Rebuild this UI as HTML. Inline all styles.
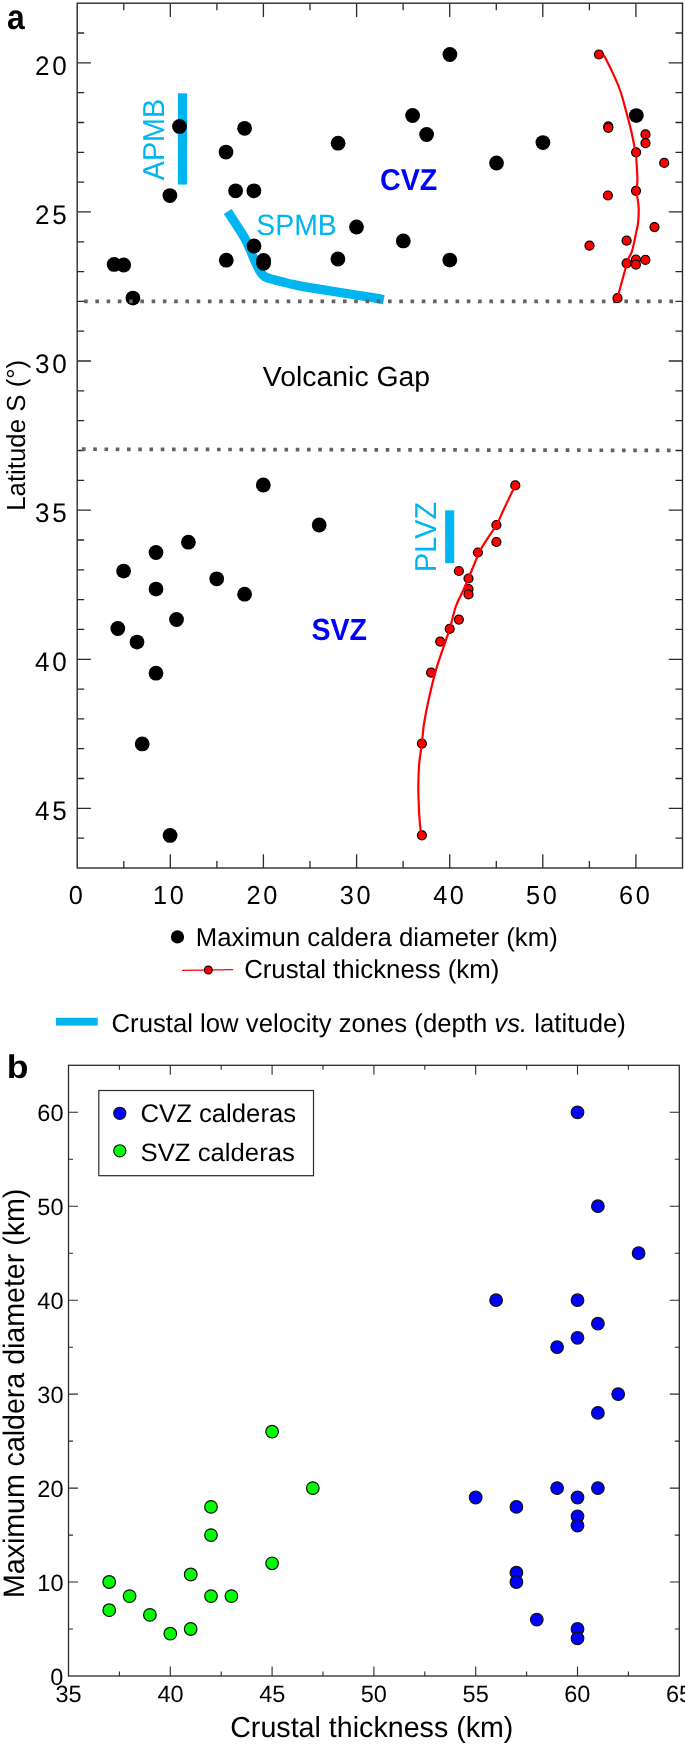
<!DOCTYPE html><html><head><meta charset="utf-8"><style>html,body{margin:0;padding:0;background:#fff;}svg{display:block;will-change:transform;}text{font-family:"Liberation Sans",sans-serif;text-rendering:geometricPrecision;}</style></head><body>
<svg width="685" height="1749" viewBox="0 0 685 1749">
<rect width="685" height="1749" fill="#fff"/>
<rect x="77.2" y="3.2" width="605.3" height="864.8" fill="none" stroke="#2b2b2b" stroke-width="1.4"/>
<path d="M123.8,868.0V861.0M123.8,3.2V10.2M170.3,868.0V854.3M170.3,3.2V16.9M216.9,868.0V861.0M216.9,3.2V10.2M263.4,868.0V854.3M263.4,3.2V16.9M310.0,868.0V861.0M310.0,3.2V10.2M356.6,868.0V854.3M356.6,3.2V16.9M403.1,868.0V861.0M403.1,3.2V10.2M449.7,868.0V854.3M449.7,3.2V16.9M496.3,868.0V861.0M496.3,3.2V10.2M542.8,868.0V854.3M542.8,3.2V16.9M589.4,868.0V861.0M589.4,3.2V10.2M635.9,868.0V854.3M635.9,3.2V16.9M77.2,33.0H84.2M682.5,33.0H675.5M77.2,62.8H90.9M682.5,62.8H668.8M77.2,92.7H84.2M682.5,92.7H675.5M77.2,122.5H84.2M682.5,122.5H675.5M77.2,152.3H84.2M682.5,152.3H675.5M77.2,182.1H84.2M682.5,182.1H675.5M77.2,211.9H90.9M682.5,211.9H668.8M77.2,241.8H84.2M682.5,241.8H675.5M77.2,271.6H84.2M682.5,271.6H675.5M77.2,301.4H84.2M682.5,301.4H675.5M77.2,331.2H84.2M682.5,331.2H675.5M77.2,361.0H90.9M682.5,361.0H668.8M77.2,390.9H84.2M682.5,390.9H675.5M77.2,420.7H84.2M682.5,420.7H675.5M77.2,450.5H84.2M682.5,450.5H675.5M77.2,480.3H84.2M682.5,480.3H675.5M77.2,510.2H90.9M682.5,510.2H668.8M77.2,540.0H84.2M682.5,540.0H675.5M77.2,569.8H84.2M682.5,569.8H675.5M77.2,599.6H84.2M682.5,599.6H675.5M77.2,629.4H84.2M682.5,629.4H675.5M77.2,659.3H90.9M682.5,659.3H668.8M77.2,689.1H84.2M682.5,689.1H675.5M77.2,718.9H84.2M682.5,718.9H675.5M77.2,748.7H84.2M682.5,748.7H675.5M77.2,778.5H84.2M682.5,778.5H675.5M77.2,808.4H90.9M682.5,808.4H668.8M77.2,838.2H84.2M682.5,838.2H675.5" stroke="#2b2b2b" stroke-width="1.3" fill="none"/>
<rect x="177.9" y="93.3" width="9.2" height="91.3" fill="#00b5f0"/>
<rect x="445.1" y="510.3" width="9.1" height="52.8" fill="#00b5f0"/>
<path d="M227.7,211.6 C230.2,215.5 239.3,229.1 242.9,235.0 C246.5,240.9 247.1,242.9 249.0,247.0 C250.9,251.1 252.5,255.6 254.3,259.5 C256.1,263.4 257.9,267.7 259.6,270.5 C261.3,273.3 261.9,274.9 264.5,276.5 C267.1,278.1 271.0,278.9 275.0,280.0 C279.0,281.1 283.4,282.2 288.4,283.4 C293.4,284.5 295.6,285.3 305.0,286.9 C314.4,288.5 333.5,291.4 345.0,293.2 C356.5,295.0 367.7,296.8 374.2,297.9 C380.7,299.0 382.2,299.4 383.8,299.7" stroke="#00b5f0" stroke-width="9.2" fill="none" stroke-linecap="butt" stroke-linejoin="round"/>
<circle cx="449.9" cy="54.5" r="7.4" fill="#000"/>
<circle cx="636.3" cy="115.6" r="7.4" fill="#000"/>
<circle cx="412.6" cy="115.5" r="7.4" fill="#000"/>
<circle cx="179.5" cy="126.5" r="7.4" fill="#000"/>
<circle cx="244.6" cy="128.3" r="7.4" fill="#000"/>
<circle cx="426.6" cy="134.5" r="7.4" fill="#000"/>
<circle cx="338.1" cy="143.2" r="7.4" fill="#000"/>
<circle cx="542.9" cy="142.6" r="7.4" fill="#000"/>
<circle cx="226.0" cy="152.1" r="7.4" fill="#000"/>
<circle cx="496.5" cy="163.0" r="7.4" fill="#000"/>
<circle cx="235.6" cy="190.8" r="7.4" fill="#000"/>
<circle cx="253.9" cy="190.8" r="7.4" fill="#000"/>
<circle cx="169.9" cy="195.6" r="7.4" fill="#000"/>
<circle cx="356.5" cy="227.0" r="7.4" fill="#000"/>
<circle cx="403.3" cy="240.9" r="7.4" fill="#000"/>
<circle cx="254.0" cy="246.0" r="7.4" fill="#000"/>
<circle cx="226.3" cy="260.2" r="7.4" fill="#000"/>
<circle cx="263.6" cy="260.4" r="7.4" fill="#000"/>
<circle cx="263.6" cy="263.3" r="7.4" fill="#000"/>
<circle cx="337.9" cy="259.0" r="7.4" fill="#000"/>
<circle cx="449.8" cy="260.1" r="7.4" fill="#000"/>
<circle cx="114.1" cy="264.4" r="7.4" fill="#000"/>
<circle cx="123.7" cy="265.0" r="7.4" fill="#000"/>
<circle cx="132.9" cy="298.1" r="7.4" fill="#000"/>
<circle cx="263.3" cy="485.0" r="7.4" fill="#000"/>
<circle cx="319.2" cy="525.0" r="7.4" fill="#000"/>
<circle cx="188.4" cy="542.2" r="7.4" fill="#000"/>
<circle cx="156.0" cy="552.5" r="7.4" fill="#000"/>
<circle cx="123.6" cy="571.1" r="7.4" fill="#000"/>
<circle cx="216.7" cy="578.8" r="7.4" fill="#000"/>
<circle cx="156.0" cy="589.1" r="7.4" fill="#000"/>
<circle cx="244.6" cy="594.2" r="7.4" fill="#000"/>
<circle cx="176.5" cy="619.5" r="7.4" fill="#000"/>
<circle cx="117.8" cy="628.5" r="7.4" fill="#000"/>
<circle cx="137.0" cy="642.1" r="7.4" fill="#000"/>
<circle cx="156.0" cy="673.2" r="7.4" fill="#000"/>
<circle cx="142.2" cy="743.9" r="7.4" fill="#000"/>
<circle cx="170.1" cy="835.4" r="7.4" fill="#000"/>
<path d="M84.1,301.4H673.1" stroke="#626262" stroke-width="3.7" stroke-dasharray="3.6 7.656" fill="none"/>
<path d="M82.0,449.2L670.7,450.4" stroke="#626262" stroke-width="3.7" stroke-dasharray="3.6 7.65" fill="none"/>
<circle cx="599.0" cy="54.5" r="4.5" fill="#ff0000" stroke="#000" stroke-width="1.2"/>
<circle cx="608.3" cy="126.3" r="4.5" fill="#ff0000" stroke="#000" stroke-width="1.2"/>
<circle cx="608.3" cy="127.8" r="4.5" fill="#ff0000" stroke="#000" stroke-width="1.2"/>
<circle cx="645.5" cy="134.4" r="4.5" fill="#ff0000" stroke="#000" stroke-width="1.2"/>
<circle cx="645.5" cy="143.2" r="4.5" fill="#ff0000" stroke="#000" stroke-width="1.2"/>
<circle cx="636.1" cy="152.3" r="4.5" fill="#ff0000" stroke="#000" stroke-width="1.2"/>
<circle cx="664.2" cy="162.9" r="4.5" fill="#ff0000" stroke="#000" stroke-width="1.2"/>
<circle cx="636.0" cy="190.8" r="4.5" fill="#ff0000" stroke="#000" stroke-width="1.2"/>
<circle cx="607.9" cy="195.5" r="4.5" fill="#ff0000" stroke="#000" stroke-width="1.2"/>
<circle cx="654.5" cy="227.1" r="4.5" fill="#ff0000" stroke="#000" stroke-width="1.2"/>
<circle cx="626.6" cy="240.7" r="4.5" fill="#ff0000" stroke="#000" stroke-width="1.2"/>
<circle cx="589.5" cy="245.7" r="4.5" fill="#ff0000" stroke="#000" stroke-width="1.2"/>
<circle cx="635.9" cy="259.5" r="4.5" fill="#ff0000" stroke="#000" stroke-width="1.2"/>
<circle cx="645.4" cy="259.9" r="4.5" fill="#ff0000" stroke="#000" stroke-width="1.2"/>
<circle cx="626.6" cy="263.3" r="4.5" fill="#ff0000" stroke="#000" stroke-width="1.2"/>
<circle cx="635.9" cy="264.6" r="4.5" fill="#ff0000" stroke="#000" stroke-width="1.2"/>
<circle cx="617.5" cy="298.2" r="4.5" fill="#ff0000" stroke="#000" stroke-width="1.2"/>
<circle cx="515.3" cy="485.4" r="4.5" fill="#ff0000" stroke="#000" stroke-width="1.2"/>
<circle cx="496.4" cy="525.0" r="4.5" fill="#ff0000" stroke="#000" stroke-width="1.2"/>
<circle cx="496.4" cy="542.0" r="4.5" fill="#ff0000" stroke="#000" stroke-width="1.2"/>
<circle cx="477.9" cy="552.5" r="4.5" fill="#ff0000" stroke="#000" stroke-width="1.2"/>
<circle cx="458.9" cy="571.0" r="4.5" fill="#ff0000" stroke="#000" stroke-width="1.2"/>
<circle cx="468.5" cy="578.5" r="4.5" fill="#ff0000" stroke="#000" stroke-width="1.2"/>
<circle cx="468.5" cy="589.0" r="4.5" fill="#ff0000" stroke="#000" stroke-width="1.2"/>
<circle cx="468.5" cy="594.4" r="4.5" fill="#ff0000" stroke="#000" stroke-width="1.2"/>
<circle cx="458.9" cy="619.6" r="4.5" fill="#ff0000" stroke="#000" stroke-width="1.2"/>
<circle cx="449.7" cy="628.8" r="4.5" fill="#ff0000" stroke="#000" stroke-width="1.2"/>
<circle cx="440.2" cy="641.6" r="4.5" fill="#ff0000" stroke="#000" stroke-width="1.2"/>
<circle cx="431.1" cy="672.6" r="4.5" fill="#ff0000" stroke="#000" stroke-width="1.2"/>
<circle cx="421.9" cy="743.6" r="4.5" fill="#ff0000" stroke="#000" stroke-width="1.2"/>
<circle cx="421.9" cy="835.3" r="4.5" fill="#ff0000" stroke="#000" stroke-width="1.2"/>
<path d="M603.8,55.0 C605.2,57.9 609.8,66.7 612.5,72.5 C615.2,78.3 617.8,83.8 620.0,90.0 C622.2,96.2 624.0,103.3 625.8,110.0 C627.6,116.7 629.5,123.8 631.0,130.0 C632.5,136.2 633.8,143.5 634.6,147.2 C635.4,150.9 635.7,150.3 636.0,152.4 C636.3,154.5 636.2,155.8 636.4,160.0 C636.6,164.2 637.3,173.5 637.4,177.9 C637.5,182.3 637.1,184.4 636.9,186.6 C636.7,188.8 636.3,189.2 636.4,191.0 C636.5,192.8 637.0,194.8 637.4,197.6 C637.8,200.4 638.6,203.9 638.7,208.0 C638.8,212.1 638.6,218.0 638.2,221.9 C637.8,225.8 637.4,226.5 636.4,231.4 C635.4,236.3 633.5,246.1 632.0,251.1 C630.5,256.1 630.0,253.5 627.6,261.3 C625.2,269.1 619.2,291.9 617.5,298.0" stroke="#ff0000" stroke-width="2.2" fill="none"/>
<path d="M515.3,485.3 C513.2,489.6 506.1,504.4 503.0,511.0 C499.9,517.6 500.1,518.7 496.4,525.0 C492.7,531.3 485.0,541.7 481.0,549.0 C477.0,556.3 475.2,562.2 472.3,569.0 C469.4,575.8 466.3,583.5 463.6,589.7 C460.9,595.9 458.3,599.5 456.0,606.0 C453.7,612.5 451.9,621.5 449.7,628.7 C447.5,635.9 445.2,641.9 442.8,649.2 C440.4,656.5 437.6,663.8 435.2,672.6 C432.8,681.4 430.1,693.1 428.2,701.8 C426.3,710.5 424.9,718.0 423.8,725.0 C422.8,732.0 422.7,736.8 421.9,743.6 C421.1,750.4 419.6,757.4 419.0,766.0 C418.4,774.6 418.2,785.2 418.4,795.0 C418.6,804.8 419.4,818.3 420.0,825.0 C420.6,831.7 421.6,833.6 421.9,835.3" stroke="#ff0000" stroke-width="2.2" fill="none"/>
<circle cx="177.5" cy="936.9" r="6.6" fill="#000"/>
<path d="M182.1,970.4L233.1,969.6" stroke="#ff0000" stroke-width="1.4"/>
<circle cx="208.3" cy="970" r="3.9" fill="#ff0000" stroke="#000" stroke-width="1.1"/>
<rect x="55.9" y="1017.8" width="41.8" height="7.8" fill="#00b5f0"/>
<rect x="68.5" y="1065.3" width="610.8" height="610.7" fill="none" stroke="#2b2b2b" stroke-width="1.3"/>
<path d="M119.4,1676.0V1671.5M119.4,1065.3V1069.8M170.3,1676.0V1666.5M170.3,1065.3V1074.8M221.2,1676.0V1671.5M221.2,1065.3V1069.8M272.1,1676.0V1666.5M272.1,1065.3V1074.8M323.0,1676.0V1671.5M323.0,1065.3V1069.8M373.9,1676.0V1666.5M373.9,1065.3V1074.8M424.8,1676.0V1671.5M424.8,1065.3V1069.8M475.7,1676.0V1666.5M475.7,1065.3V1074.8M526.6,1676.0V1671.5M526.6,1065.3V1069.8M577.5,1676.0V1666.5M577.5,1065.3V1074.8M628.4,1676.0V1671.5M628.4,1065.3V1069.8M68.5,1629.0H73.0M679.3,1629.0H674.8M68.5,1582.0H78.0M679.3,1582.0H669.8M68.5,1535.1H73.0M679.3,1535.1H674.8M68.5,1488.1H78.0M679.3,1488.1H669.8M68.5,1441.1H73.0M679.3,1441.1H674.8M68.5,1394.1H78.0M679.3,1394.1H669.8M68.5,1347.2H73.0M679.3,1347.2H674.8M68.5,1300.2H78.0M679.3,1300.2H669.8M68.5,1253.2H73.0M679.3,1253.2H674.8M68.5,1206.2H78.0M679.3,1206.2H669.8M68.5,1159.3H73.0M679.3,1159.3H674.8M68.5,1112.3H78.0M679.3,1112.3H669.8" stroke="#2b2b2b" stroke-width="1.1" fill="none"/>
<rect x="98.8" y="1090.5" width="214.7" height="85.2" fill="#fff" stroke="#2b2b2b" stroke-width="1.2"/>
<circle cx="119.8" cy="1113.3" r="6.1" fill="#0000ff" stroke="#111" stroke-width="1.1"/>
<circle cx="119.8" cy="1150.8" r="6.1" fill="#00ff00" stroke="#111" stroke-width="1.1"/>
<circle cx="577.5" cy="1112.3" r="6.3" fill="#0000ff" stroke="#111" stroke-width="1.2"/>
<circle cx="597.9" cy="1206.2" r="6.3" fill="#0000ff" stroke="#111" stroke-width="1.2"/>
<circle cx="638.6" cy="1253.2" r="6.3" fill="#0000ff" stroke="#111" stroke-width="1.2"/>
<circle cx="496.1" cy="1300.2" r="6.3" fill="#0000ff" stroke="#111" stroke-width="1.2"/>
<circle cx="577.5" cy="1300.2" r="6.3" fill="#0000ff" stroke="#111" stroke-width="1.2"/>
<circle cx="597.9" cy="1323.7" r="6.3" fill="#0000ff" stroke="#111" stroke-width="1.2"/>
<circle cx="577.5" cy="1337.8" r="6.3" fill="#0000ff" stroke="#111" stroke-width="1.2"/>
<circle cx="557.1" cy="1347.2" r="6.3" fill="#0000ff" stroke="#111" stroke-width="1.2"/>
<circle cx="618.2" cy="1394.1" r="6.3" fill="#0000ff" stroke="#111" stroke-width="1.2"/>
<circle cx="597.9" cy="1412.9" r="6.3" fill="#0000ff" stroke="#111" stroke-width="1.2"/>
<circle cx="557.1" cy="1488.1" r="6.3" fill="#0000ff" stroke="#111" stroke-width="1.2"/>
<circle cx="597.9" cy="1488.1" r="6.3" fill="#0000ff" stroke="#111" stroke-width="1.2"/>
<circle cx="475.7" cy="1497.5" r="6.3" fill="#0000ff" stroke="#111" stroke-width="1.2"/>
<circle cx="577.5" cy="1497.5" r="6.3" fill="#0000ff" stroke="#111" stroke-width="1.2"/>
<circle cx="516.4" cy="1506.9" r="6.3" fill="#0000ff" stroke="#111" stroke-width="1.2"/>
<circle cx="577.5" cy="1516.3" r="6.3" fill="#0000ff" stroke="#111" stroke-width="1.2"/>
<circle cx="577.5" cy="1525.7" r="6.3" fill="#0000ff" stroke="#111" stroke-width="1.2"/>
<circle cx="516.4" cy="1572.7" r="6.3" fill="#0000ff" stroke="#111" stroke-width="1.2"/>
<circle cx="516.4" cy="1582.0" r="6.3" fill="#0000ff" stroke="#111" stroke-width="1.2"/>
<circle cx="536.8" cy="1619.6" r="6.3" fill="#0000ff" stroke="#111" stroke-width="1.2"/>
<circle cx="577.5" cy="1629.0" r="6.3" fill="#0000ff" stroke="#111" stroke-width="1.2"/>
<circle cx="577.5" cy="1638.4" r="6.3" fill="#0000ff" stroke="#111" stroke-width="1.2"/>
<circle cx="272.1" cy="1431.7" r="6.3" fill="#00ff00" stroke="#111" stroke-width="1.2"/>
<circle cx="312.8" cy="1488.1" r="6.3" fill="#00ff00" stroke="#111" stroke-width="1.2"/>
<circle cx="211.0" cy="1506.9" r="6.3" fill="#00ff00" stroke="#111" stroke-width="1.2"/>
<circle cx="211.0" cy="1535.1" r="6.3" fill="#00ff00" stroke="#111" stroke-width="1.2"/>
<circle cx="272.1" cy="1563.3" r="6.3" fill="#00ff00" stroke="#111" stroke-width="1.2"/>
<circle cx="190.7" cy="1574.5" r="6.3" fill="#00ff00" stroke="#111" stroke-width="1.2"/>
<circle cx="109.2" cy="1582.0" r="6.3" fill="#00ff00" stroke="#111" stroke-width="1.2"/>
<circle cx="129.6" cy="1596.1" r="6.3" fill="#00ff00" stroke="#111" stroke-width="1.2"/>
<circle cx="211.0" cy="1596.1" r="6.3" fill="#00ff00" stroke="#111" stroke-width="1.2"/>
<circle cx="231.4" cy="1596.1" r="6.3" fill="#00ff00" stroke="#111" stroke-width="1.2"/>
<circle cx="109.2" cy="1610.2" r="6.3" fill="#00ff00" stroke="#111" stroke-width="1.2"/>
<circle cx="149.9" cy="1614.9" r="6.3" fill="#00ff00" stroke="#111" stroke-width="1.2"/>
<circle cx="190.7" cy="1629.0" r="6.3" fill="#00ff00" stroke="#111" stroke-width="1.2"/>
<circle cx="170.3" cy="1633.7" r="6.3" fill="#00ff00" stroke="#111" stroke-width="1.2"/>
<text transform="translate(-41.35,-76.06) scale(0.9657,1.0500) translate(50,100) rotate(0)" font-size="33" font-weight="bold" fill="#000">a</text>
<text transform="translate(-47.07,978.98) scale(1.0788,0.9897) translate(50,100) rotate(0)" font-size="33" font-weight="bold" fill="#000">b</text>
<text transform="translate(-77.59,-198.31) scale(1.0232,1.0131) translate(100,700) rotate(-90)" font-size="25.5" fill="#000">Latitude S (°)</text>
<text transform="translate(55.45,-537.36) scale(1.0805,1.0251) translate(100,700) rotate(-90)" font-size="28" fill="#00b5f0">APMB</text>
<text transform="translate(205.72,129.22) scale(1.0124,1.0532) translate(50,100) rotate(0)" font-size="28" fill="#00b5f0">SPMB</text>
<text transform="translate(328.82,82.48) scale(1.0241,1.0785) translate(50,100) rotate(0)" font-size="28" font-weight="bold" fill="#0000ff">CVZ</text>
<text transform="translate(212.14,287.16) scale(1.0141,0.9923) translate(50,100) rotate(0)" font-size="28" fill="#000">Volcanic Gap</text>
<text transform="translate(323.91,-174.77) scale(1.1189,1.0667) translate(100,700) rotate(-90)" font-size="27" fill="#00b5f0">PLVZ</text>
<text transform="translate(260.59,530.76) scale(1.0189,1.0937) translate(50,100) rotate(0)" font-size="28" font-weight="bold" fill="#0000ff">SVZ</text>
<text transform="translate(145.08,843.21) scale(1.0139,1.0232) translate(50,100) rotate(0)" font-size="25.4" fill="#000">Maximun caldera diameter (km)</text>
<text transform="translate(193.31,876.01) scale(1.0163,1.0232) translate(50,100) rotate(0)" font-size="25.4" fill="#000">Crustal thickness (km)</text>
<text transform="translate(60.93,929.86) scale(1.0122,1.0189) translate(50,100) rotate(0)" font-size="25.4" fill="#000">Crustal low velocity zones (depth <tspan font-style="italic">vs.</tspan> latitude)</text>
<text transform="translate(179.02,1633.59) scale(1.0228,1.0346) translate(50,100) rotate(0)" font-size="28" fill="#000">Crustal thickness (km)</text>
<text transform="translate(-81.75,884.43) scale(1.0577,1.0194) translate(100,700) rotate(-90)" font-size="28" fill="#000">Maximum caldera diameter (km)</text>
<text transform="translate(89.16,1019.88) scale(1.0271,1.0247) translate(50,100) rotate(0)" font-size="25" fill="#000">CVZ calderas</text>
<text transform="translate(89.10,1059.93) scale(1.0284,1.0082) translate(50,100) rotate(0)" font-size="25" fill="#000">SVZ calderas</text>
<text transform="translate(-17.06,-32.28) scale(1.0430,1.0700) translate(50,100) rotate(0)" font-size="25" fill="#000" letter-spacing="2.5">20</text>
<text transform="translate(-17.06,116.82) scale(1.0430,1.0700) translate(50,100) rotate(0)" font-size="25" fill="#000" letter-spacing="2.5">25</text>
<text transform="translate(-17.06,265.92) scale(1.0430,1.0700) translate(50,100) rotate(0)" font-size="25" fill="#000" letter-spacing="2.5">30</text>
<text transform="translate(-17.06,415.03) scale(1.0430,1.0700) translate(50,100) rotate(0)" font-size="25" fill="#000" letter-spacing="2.5">35</text>
<text transform="translate(-17.06,564.13) scale(1.0430,1.0700) translate(50,100) rotate(0)" font-size="25" fill="#000" letter-spacing="2.5">40</text>
<text transform="translate(-17.06,712.97) scale(1.0430,1.0700) translate(50,100) rotate(0)" font-size="25" fill="#000" letter-spacing="2.5">45</text>
<text transform="translate(18.06,799.83) scale(1.0130,1.0420) translate(50,100) rotate(0)" font-size="25" fill="#000" letter-spacing="2.5">0</text>
<text transform="translate(102.44,799.83) scale(1.0130,1.0420) translate(50,100) rotate(0)" font-size="25" fill="#000" letter-spacing="2.5">10</text>
<text transform="translate(195.95,799.83) scale(1.0130,1.0420) translate(50,100) rotate(0)" font-size="25" fill="#000" letter-spacing="2.5">20</text>
<text transform="translate(289.20,799.83) scale(1.0130,1.0420) translate(50,100) rotate(0)" font-size="25" fill="#000" letter-spacing="2.5">30</text>
<text transform="translate(382.57,799.83) scale(1.0130,1.0420) translate(50,100) rotate(0)" font-size="25" fill="#000" letter-spacing="2.5">40</text>
<text transform="translate(475.44,799.83) scale(1.0130,1.0420) translate(50,100) rotate(0)" font-size="25" fill="#000" letter-spacing="2.5">50</text>
<text transform="translate(568.44,799.83) scale(1.0130,1.0420) translate(50,100) rotate(0)" font-size="25" fill="#000" letter-spacing="2.5">60</text>
<text transform="translate(0.35,1584.60) scale(1.0000,1.0000) translate(50,100) rotate(0)" font-size="23.5" fill="#000">0</text>
<text transform="translate(-12.65,1490.65) scale(1.0000,1.0000) translate(50,100) rotate(0)" font-size="23.5" fill="#000">10</text>
<text transform="translate(-12.65,1396.69) scale(1.0000,1.0000) translate(50,100) rotate(0)" font-size="23.5" fill="#000">20</text>
<text transform="translate(-12.65,1302.74) scale(1.0000,1.0000) translate(50,100) rotate(0)" font-size="23.5" fill="#000">30</text>
<text transform="translate(-12.65,1208.78) scale(1.0000,1.0000) translate(50,100) rotate(0)" font-size="23.5" fill="#000">40</text>
<text transform="translate(-12.65,1114.83) scale(1.0000,1.0000) translate(50,100) rotate(0)" font-size="23.5" fill="#000">50</text>
<text transform="translate(-12.65,1020.88) scale(1.0000,1.0000) translate(50,100) rotate(0)" font-size="23.5" fill="#000">60</text>
<text transform="translate(5.38,1602.30) scale(1.0000,1.0000) translate(50,100) rotate(0)" font-size="23.5" fill="#000">35</text>
<text transform="translate(107.43,1602.30) scale(1.0000,1.0000) translate(50,100) rotate(0)" font-size="23.5" fill="#000">40</text>
<text transform="translate(209.23,1602.05) scale(1.0000,1.0000) translate(50,100) rotate(0)" font-size="23.5" fill="#000">45</text>
<text transform="translate(310.77,1602.30) scale(1.0000,1.0000) translate(50,100) rotate(0)" font-size="23.5" fill="#000">50</text>
<text transform="translate(412.57,1602.05) scale(1.0000,1.0000) translate(50,100) rotate(0)" font-size="23.5" fill="#000">55</text>
<text transform="translate(514.25,1602.30) scale(1.0000,1.0000) translate(50,100) rotate(0)" font-size="23.5" fill="#000">60</text>
<text transform="translate(616.05,1602.30) scale(1.0000,1.0000) translate(50,100) rotate(0)" font-size="23.5" fill="#000">65</text>
</svg></body></html>
